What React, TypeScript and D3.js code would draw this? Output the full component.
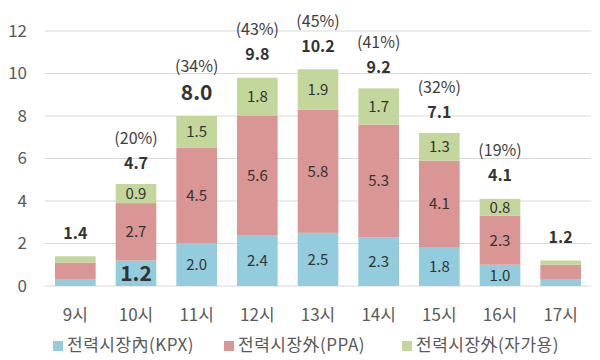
// @ts-nocheck
import React from "react";
import * as d3 from "d3";

const hours = ["9시", "10시", "11시", "12시", "13시", "14시", "15시", "16시", "17시"];
const kpx = [0.3, 1.2, 2.0, 2.4, 2.5, 2.3, 1.8, 1.0, 0.3];
const ppa = [0.8, 2.7, 4.5, 5.6, 5.8, 5.3, 4.1, 2.3, 0.7];
const selfUse = [0.3, 0.9, 1.5, 1.8, 1.9, 1.7, 1.3, 0.8, 0.2];
const totals = [1.4, 4.7, 8.0, 9.8, 10.2, 9.2, 7.1, 4.1, 1.2];
const shares = ["", "(20%)", "(34%)", "(43%)", "(45%)", "(41%)", "(32%)", "(19%)", ""];
const yTicks = [0, 2, 4, 6, 8, 10, 12];

const seriesNames = ["전력시장內(KPX)", "전력시장外(PPA)", "전력시장外(자가용)"];
const colors = ["#93CDDD", "#D99694", "#C3D69B"];

const W = 600;
const H = 360;
const margin = { top: 31, right: 9, bottom: 74, left: 45 };
const font = "'Noto Sans CJK KR', 'Noto Sans', sans-serif";

export default function App() {
  const x = d3
    .scaleBand()
    .domain(hours)
    .range([margin.left, W - margin.right])
    .paddingInner(0.33)
    .paddingOuter(0.165);
  const y = d3
    .scaleLinear()
    .domain([0, 12])
    .range([H - margin.bottom, margin.top]);

  const rows = hours.map((h, i) => ({ h, a: kpx[i], b: ppa[i], c: selfUse[i] }));
  const stack = d3.stack().keys(["a", "b", "c"])(rows);

  return (
    <svg
      width={W}
      height={H}
      style={{ position: "absolute", left: 0, top: 0, background: "#fff" }}
      fontFamily={font}
    >
      {yTicks.map((t) => (
        <g key={t}>
          <line
            x1={margin.left}
            x2={W - margin.right}
            y1={y(t)}
            y2={y(t)}
            stroke="#D9D9D9"
            strokeWidth={1}
          />
          <text
            x={27}
            y={y(t)}
            dy="0.35em"
            textAnchor="end"
            fontSize={17}
            fill="#595959"
          >
            {t}
          </text>
        </g>
      ))}

      {stack.map((s, si) =>
        s.map((d, i) => {
          const v = d[1] - d[0];
          const bx = x(hours[i]);
          const big = si === 0 && i === 1;
          const showLabel = i !== 0 && i !== 8;
          return (
            <g key={`${si}-${i}`}>
              <rect
                x={bx}
                y={y(d[1])}
                width={x.bandwidth()}
                height={y(d[0]) - y(d[1])}
                fill={colors[si]}
              />
              {showLabel && (
                <text
                  x={bx + x.bandwidth() / 2}
                  y={(y(d[0]) + y(d[1])) / 2}
                  dy="0.35em"
                  textAnchor="middle"
                  fontSize={big ? 21 : 15}
                  fontWeight={big ? "bold" : "normal"}
                  fill="#333"
                >
                  {v.toFixed(1)}
                </text>
              )}
            </g>
          );
        })
      )}

      {hours.map((h, i) => {
        const cx = x(h) + x.bandwidth() / 2;
        const top = y(totals[i]);
        const big = i === 2;
        return (
          <g key={h}>
            <text
              x={cx}
              y={top - 23}
              dy="0.35em"
              textAnchor="middle"
              fontSize={big ? 21 : 16}
              fontWeight="bold"
              fill="#333"
            >
              {totals[i].toFixed(1)}
            </text>
            {shares[i] && (
              <text
                x={cx}
                y={top - (big ? 50 : 48)}
                dy="0.35em"
                textAnchor="middle"
                fontSize={16}
                fill="#404040"
              >
                {shares[i]}
              </text>
            )}
            <text
              x={cx}
              y={315}
              dy="0.35em"
              textAnchor="middle"
              fontSize={17}
              fill="#595959"
            >
              {h}
            </text>
          </g>
        );
      })}

      {seriesNames.map((name, i) => {
        const lx = [53, 224, 402][i];
        return (
          <g key={name}>
            <rect x={lx} y={341} width={10} height={10} fill={colors[i]} />
            <text
              x={lx + 14}
              y={345}
              dy="0.35em"
              fontSize={17}
              letterSpacing={0.5}
              fill="#595959"
            >
              {name}
            </text>
          </g>
        );
      })}
    </svg>
  );
}
